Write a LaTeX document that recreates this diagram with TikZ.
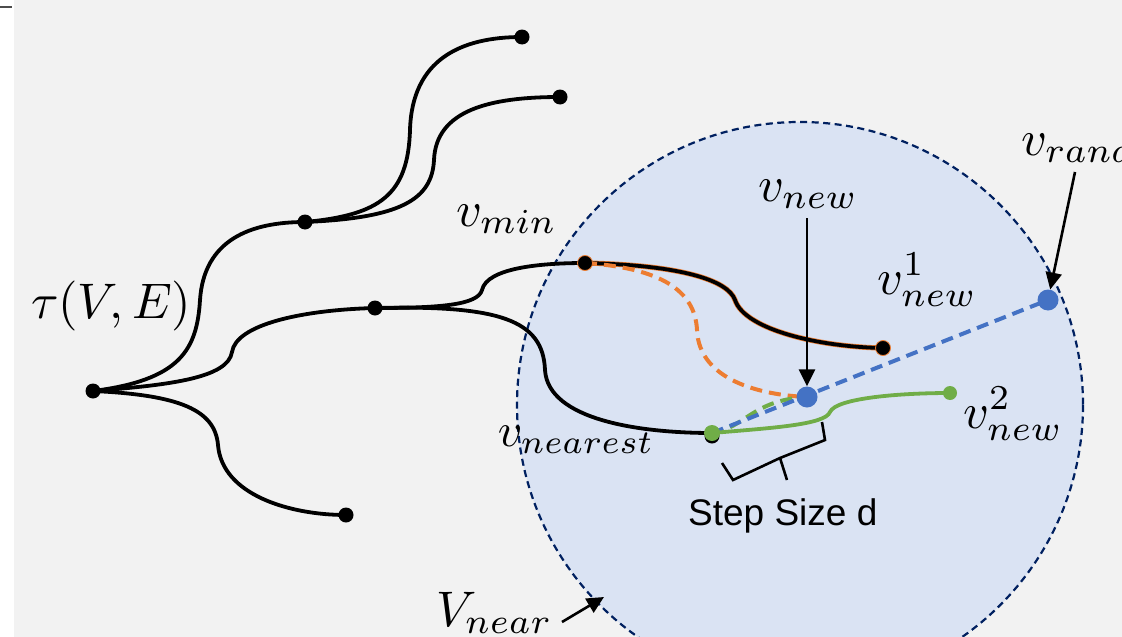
\documentclass[tikz,border=0pt]{standalone}
\usepackage{fontspec}
\newfontfamily\arialf{Liberation Sans}
\usetikzlibrary{arrows.meta}
\definecolor{bg}{HTML}{F2F2F2}
\definecolor{cfill}{HTML}{DAE3F3}
\definecolor{navy}{HTML}{002060}
\definecolor{orng}{HTML}{ED7D31}
\definecolor{grn}{HTML}{70AD47}
\definecolor{blu}{HTML}{4472C4}
\begin{document}
\begin{tikzpicture}[x=1pt,y=-1pt,
  tdot/.style={circle,fill=black,inner sep=0pt,minimum size=15pt},
  bdot/.style={circle,fill=blu,inner sep=0pt,minimum size=21pt},
  gdot/.style={circle,fill=grn,inner sep=0pt,minimum size=16pt},
  branch/.style={line width=3.8pt},
  dsh/.style={line width=4pt,dash pattern=on 12pt off 7pt},
  lab/.style={scale=5,inner sep=0pt,anchor=base west},
  arr/.style={line width=2.6pt,-{Triangle[length=17pt,width=16pt]}},
]
\useasboundingbox (0,0) rectangle (1122,637);
\clip (0,0) rectangle (1122,637);
\fill[white] (0,0) rectangle (14,637);
\fill[bg] (14,0) rectangle (1122,637);
\draw[line width=1.5pt,black!70] (0,7) -- (12,7);

% neighbourhood circle
\draw[navy,fill=cfill,line width=2.2pt,dash pattern=on 7pt off 4.5pt] (800,405) circle[radius=283];
\coordinate (np) at (604,597);

% points
\coordinate (R) at (93,391);
\coordinate (A) at (305,222);
\coordinate (B) at (375,308);
\coordinate (L1) at (522,37);
\coordinate (L2) at (560,97);
\coordinate (L3) at (346,515);
\coordinate (vmin) at (585,263);
\coordinate (L4) at (883,348);
\coordinate (vnear) at (712,433);
\coordinate (vnew) at (807,397);
\coordinate (vrand) at (1048,300);
\coordinate (G2) at (950,393);

% tree
\draw[branch] (R) .. controls (180,380) and (197,350) .. (200,300) .. controls (204,240) and (250,222) .. (A);
\draw[branch] (R) .. controls (170,385) and (228,378) .. (232,352) .. controls (236,325) and (300,310) .. (B);
\draw[branch] (R) .. controls (180,395) and (215,410) .. (218,445) .. controls (222,495) and (290,515) .. (L3);
\draw[branch] (A) .. controls (380,215) and (408,195) .. (410,130) .. controls (412,60) and (460,37) .. (L1);
\draw[branch] (A) .. controls (400,218) and (432,200) .. (434,160) .. controls (436,110) and (490,97) .. (L2);
\draw[branch] (B) .. controls (440,308) and (478,305) .. (482,290) .. controls (487,268) and (540,263) .. (vmin);
\draw[branch] (B) .. controls (500,305) and (543,320) .. (545,370) .. controls (548,420) and (640,433) .. (vnear);
\draw[line width=5.2pt,orng] (vmin) .. controls (680,265) and (728,280) .. (735,300) .. controls (745,330) and (820,347) .. (L4);
\draw[branch] (vmin) .. controls (680,265) and (728,280) .. (735,300) .. controls (745,330) and (820,347) .. (L4);

% new connections
\draw[dsh,orng] (vmin) .. controls (660,268) and (695,290) .. (697,330) .. controls (699,380) and (760,395) .. (vnew);
\draw[dsh,grn] (vnear) .. controls (745,428) and (752,400) .. (vnew);
\draw[dsh,blu] (vnear) -- (vrand);
\draw[line width=3.8pt,grn] (vnear) .. controls (770,428) and (825,425) .. (830,412) .. controls (836,398) and (900,393) .. (G2);

% brace
\draw[line width=2.6pt,line join=miter] (822,422) -- (825,440) -- (780,458) -- (733,480) -- (722,463);
\draw[line width=2.6pt] (780,458) -- (787,480);

% dots
\node[tdot] (nR) at (R) {};
\node[tdot] (nA) at (A) {};
\node[tdot] (nB) at (B) {};
\node[tdot] (nL1) at (L1) {};
\node[tdot] (nL2) at (L2) {};
\node[tdot] (nL3) at (L3) {};
\node[tdot,draw=orng,line width=0.8pt] (nvmin) at (vmin) {};
\node[tdot,draw=orng,line width=0.8pt] (nL4) at (L4) {};
\node[tdot] (nshadow) at (712,436) {};
\node[gdot] (nvnear) at (vnear) {};
\node[bdot] (nvnew) at (vnew) {};
\node[bdot] (nvrand) at (vrand) {};
\node[gdot,minimum size=14pt] (nG2) at (G2) {};

% arrows
\coordinate (a1) at (807,218);
\coordinate (a2) at (1075,172);
\coordinate (a3) at (562,622);
\draw[arr] (a1) -- (nvnew);
\draw[arr] (a2) -- (nvrand);
\draw[arr] (a3) -- (np);

% labels
\node[lab] (tl) at (30,318) {$\tau(V,E)$};
\node[lab] (lmin) at (455,226) {$v_{min}$};
\node[lab] (lnew) at (757,201) {$v_{new}$};
\node[lab] (lnew1) at (876,294) {$v_{new}^{1}$};
\node[lab] (lrand) at (1020,155) {$v_{rand}$};
\node[lab,scale=0.95] (lnear) at (497,446) {$v_{nearest}$};
\node[lab] (lnew2) at (962,428) {$v_{new}^{2}$};
\node[lab] (lV) at (435,626) {$V_{near}$};
\node[anchor=base west,inner sep=0pt,font=\arialf\fontsize{37}{40}\selectfont] (step) at (688,525) {Step Size d};
\end{tikzpicture}
\end{document}
